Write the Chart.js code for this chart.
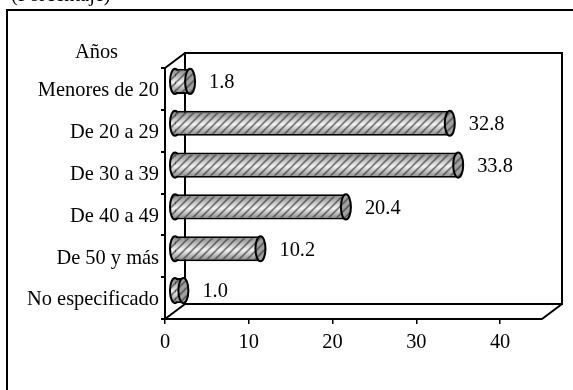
<!DOCTYPE html>
<html>
<head>
<meta charset="utf-8">
<style>
html, body { margin: 0; padding: 0; background: #fff; overflow: hidden; }
#wrap { width: 573px; height: 390px; }
</style>
<script src="https://cdn.jsdelivr.net/npm/chart.js@4"></script>
</head>
<body>
<div id="wrap"><canvas id="chart" width="573" height="390"></canvas></div>
<script>
const categories = ['Menores de 20', 'De 20 a 29', 'De 30 a 39', 'De 40 a 49', 'De 50 y más', 'No especificado'];
const porcentaje = [1.8, 32.8, 33.8, 20.4, 10.2, 1.0];
const xTicks = [0, 10, 20, 30, 40];
const unitText = '(Porcentaje)';
const axisText = 'Años';

const FONT = '"Liberation Serif", "Times New Roman", serif';
const DEPTH_X = 20, DEPTH_Y = 15;
const BAR_SHARE = 0.6;

// diagonal hatch for the bars
function makeHatch(ctx) {
    const tile = document.createElement('canvas');
    tile.width = 8;
    tile.height = 8;
    const t = tile.getContext('2d');
    t.strokeStyle = 'rgba(50,50,50,0.75)';
    t.lineWidth = 1.5;
    t.beginPath();
    t.moveTo(-2, 10); t.lineTo(10, -2);
    t.moveTo(-6, 6); t.lineTo(6, -6);
    t.moveTo(2, 14); t.lineTo(14, 2);
    t.stroke();
    return ctx.createPattern(tile, 'repeat');
}

function barGradient(ctx, top, bottom) {
    const g = ctx.createLinearGradient(0, top, 0, bottom);
    g.addColorStop(0, '#808080');
    g.addColorStop(0.55, '#f4f4f4');
    g.addColorStop(1, '#808080');
    return g;
}

const cylinder = {
    id: 'cylinder',
    beforeDraw(chart) {
        const c = chart.ctx;
        // outer frame, cut off by the picture on the right and below
        c.save();
        c.fillStyle = '#000';
        c.fillRect(6, 9, 567, 2);
        c.fillRect(6, 9, 2, 381);
        c.font = '20.4px ' + FONT;
        c.fillText(unitText, 11, 1);
        c.fillText(axisText, 75, 58);
        c.restore();

        // back wall and floor of the 3d box
        const a = chart.chartArea;
        c.save();
        c.strokeStyle = '#000';
        c.lineWidth = 2;
        c.strokeRect(a.left + DEPTH_X, a.top - DEPTH_Y, a.right - a.left, a.bottom - a.top);
        c.beginPath();
        c.moveTo(a.left, a.top); c.lineTo(a.left + DEPTH_X, a.top - DEPTH_Y);
        c.moveTo(a.left, a.bottom); c.lineTo(a.left + DEPTH_X, a.bottom - DEPTH_Y);
        c.moveTo(a.right, a.bottom); c.lineTo(a.right + DEPTH_X, a.bottom - DEPTH_Y);
        c.stroke();
        c.restore();
    },
    beforeDatasetDraw(chart) {
        const c = chart.ctx;
        const hatch = makeHatch(c);
        c.save();
        c.translate(DEPTH_X / 2, -DEPTH_Y / 2);
        // rounded far end of each cylinder
        chart.getDatasetMeta(0).data.forEach(bar => {
            const base = chart.scales.x.getPixelForValue(0);
            c.beginPath();
            c.ellipse(base, bar.y, 5, bar.height / 2, 0, 0, Math.PI * 2);
            c.fillStyle = barGradient(c, bar.y - bar.height / 2, bar.y + bar.height / 2);
            c.fill();
            c.fillStyle = hatch;
            c.fill();
            c.lineWidth = 2;
            c.strokeStyle = '#000';
            c.stroke();
        });
    },
    afterDatasetDraw(chart) {
        const c = chart.ctx;
        const hatch = makeHatch(c);
        chart.getDatasetMeta(0).data.forEach(bar => {
            const base = chart.scales.x.getPixelForValue(0);
            const h = bar.height;
            c.fillStyle = hatch;
            c.fillRect(base, bar.y - h / 2 + 2, bar.x - base, h - 4);
            // near cap
            c.beginPath();
            c.ellipse(bar.x, bar.y, 5, h / 2, 0, 0, Math.PI * 2);
            c.fillStyle = '#a0a0a0';
            c.fill();
            c.fillStyle = hatch;
            c.fill();
            c.lineWidth = 2;
            c.strokeStyle = '#000';
            c.stroke();
        });
        c.restore();

        // value labels
        c.save();
        c.fillStyle = '#000';
        c.font = '20.4px ' + FONT;
        c.textBaseline = 'middle';
        chart.getDatasetMeta(0).data.forEach((bar, i) => {
            c.fillText(porcentaje[i].toFixed(1), bar.x + DEPTH_X / 2 + 19, bar.y - DEPTH_Y / 2 + 1.5);
        });
        c.restore();
    }
};

new Chart(document.getElementById('chart'), {
    type: 'bar',
    plugins: [cylinder],
    data: {
        labels: categories,
        datasets: [{
            data: porcentaje,
            clip: false,
            barPercentage: BAR_SHARE,
            categoryPercentage: 1,
            backgroundColor(context) {
                const y = context.chart.scales.y;
                if (!y || context.dataIndex === undefined) return '#cccccc';
                const mid = y.getPixelForValue(context.dataIndex);
                const half = y.height / categories.length * BAR_SHARE / 2;
                if (!isFinite(mid) || !isFinite(half)) return '#cccccc';
                return barGradient(context.chart.ctx, mid - half, mid + half);
            },
            borderColor: '#000',
            borderWidth: { top: 2, bottom: 2, left: 0, right: 0 },
            borderSkipped: false
        }]
    },
    options: {
        indexAxis: 'y',
        responsive: false,
        animation: false,
        layout: { padding: { left: 0, right: 31, top: 68, bottom: 0 } },
        plugins: {
            legend: { display: false },
            title: { display: false },
            tooltip: { enabled: false }
        },
        scales: {
            x: {
                min: 0,
                max: 45,
                afterBuildTicks(scale) {
                    scale.ticks = xTicks.map(v => ({ value: v }));
                },
                afterFit(scale) { scale.height = 71; },
                grid: { drawOnChartArea: false, color: '#000', tickLength: 5, lineWidth: 1.5 },
                border: { color: '#000', width: 2 },
                ticks: { color: '#000', maxRotation: 0, padding: 6, font: { family: FONT, size: 20.4 } }
            },
            y: {
                afterFit(scale) { scale.width = 165; },
                grid: { drawOnChartArea: false, color: '#000', tickLength: 4, lineWidth: 2 },
                border: { color: '#000', width: 2 },
                ticks: { color: '#000', padding: 2, labelOffset: 2, font: { family: FONT, size: 20.4 } }
            }
        }
    }
});
</script>
</body>
</html>
